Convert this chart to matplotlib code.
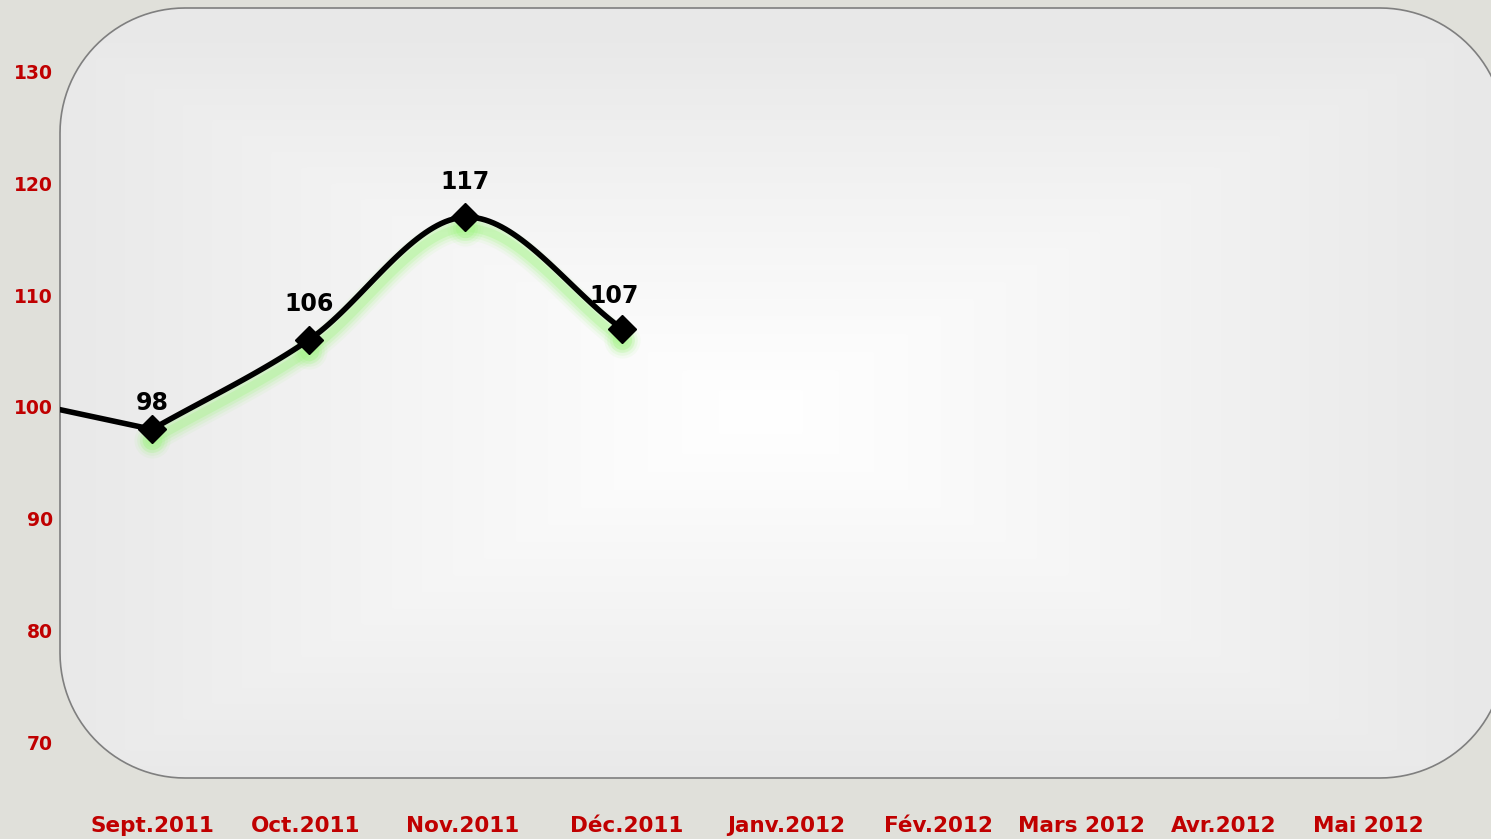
import numpy as np
import matplotlib
matplotlib.use("Agg")
import matplotlib.pyplot as plt
from matplotlib.patches import Polygon
import matplotlib.transforms as mtransforms

# Données
mois = ['Sept.2011', 'Oct.2011', 'Nov.2011', 'Déc.2011', 'Janv.2012',
        'Fév.2012', 'Mars 2012', 'Avr.2012', 'Mai 2012']
pos_etiquettes = [0, 0.98, 1.98, 3.03, 4.05, 5.02, 5.93, 6.84, 7.76]
x_points = [0, 1, 2, 3]
valeurs = [98, 106, 117, 107]
etiquettes = ['98', '106', '117', '107']
x_precedent = -1      # point précédent (Août, hors cadre)
val_precedent = 101
graduations_y = [70, 80, 90, 100, 110, 120, 130]

ROUGE = '#c00000'
FOND = '#e0e0da'

W, H = 1491, 839
fig = plt.figure(figsize=(W / 100, H / 100), dpi=100)
fig.patch.set_facecolor(FOND)

# fond : cadre arrondi avec dégradé (coordonnées en pixels, origine en bas)
bg = fig.add_axes([0, 0, 1, 1])
bg.set_xlim(0, W)
bg.set_ylim(0, H)
bg.axis('off')
bx, by, bw, bh, r = 60, H - 778, 1445, 770, 125

def rect_arrondi(x, y, w, h, r, n=30):
    pts = []
    coins = [(x + w - r, y + h - r, 0), (x + r, y + h - r, 90),
             (x + r, y + r, 180), (x + w - r, y + r, 270)]
    for cx, cy, a0 in coins:
        a = np.radians(np.linspace(a0, a0 + 90, n))
        pts.extend(zip(cx + r * np.cos(a), cy + r * np.sin(a)))
    return np.array(pts)

box = Polygon(rect_arrondi(bx, by, bw, bh, r), closed=True,
              facecolor='none', edgecolor='#7f7f7f', linewidth=1.2, zorder=3)
bg.add_patch(box)
gx = np.linspace(-1, 1, 400)
gy = np.linspace(-1, 1, 250)
GX, GY = np.meshgrid(gx, gy)
d = np.maximum(np.abs(GX + 0.03), np.abs(GY - 0.05))
d = np.clip(d, 0, 1) ** 1.1
c = 1.0 - d * (1.0 - 0.91)
img = np.dstack([c, c, c])
im = bg.imshow(img, extent=[bx, bx + bw, by, by + bh], aspect='auto',
               zorder=1, interpolation='bilinear', origin='upper')
im.set_clip_path(box)

# axes = zone du cadre (pixels 60..1491, 8..778)
ax = fig.add_axes([60 / W, 1 - 778 / H, (W - 60) / W, 770 / H])
ax.set_facecolor('none')
for s in ax.spines.values():
    s.set_visible(False)

# échelle : x pixel = 152 + 156.7*i ; y pixel = 407 - 11.167*(v-100)
ax.set_xlim((60 - 152) / 156.7, (W - 152) / 156.7)
ax.set_ylim(100 - (778 - 407) / 11.167, 100 + (407 - 8) / 11.167)

# courbe lissée (Catmull-Rom)
def lisser(xs, ys, n=40):
    xs = np.asarray(xs, float)
    ys = np.asarray(ys, float)
    px = np.concatenate([[2 * xs[0] - xs[1]], xs, [2 * xs[-1] - xs[-2]]])
    py = np.concatenate([[2 * ys[0] - ys[1]], ys, [2 * ys[-1] - ys[-2]]])
    outx, outy = [], []
    for i in range(1, len(px) - 2):
        t = np.linspace(0, 1, n)
        for p, out in ((px, outx), (py, outy)):
            a, b, cc, dd = p[i - 1], p[i], p[i + 1], p[i + 2]
            out.extend(0.5 * ((2 * b) + (-a + cc) * t +
                              (2 * a - 5 * b + 4 * cc - dd) * t ** 2 +
                              (-a + 3 * b - 3 * cc + dd) * t ** 3))
    return np.array(outx), np.array(outy)

sx, sy = lisser(x_points, valeurs)

# lueur verte décalée vers le bas
tr = mtransforms.offset_copy(ax.transData, fig=fig, x=0, y=-11, units='dots')
for lw, al in [(18, 0.08), (14, 0.12), (10, 0.18), (6, 0.28)]:
    ax.plot(sx, sy, color='#9cf57c', lw=lw, alpha=al,
            solid_capstyle='round', transform=tr, zorder=3)
    ax.plot(x_points, valeurs, 'o', color='#9cf57c', ms=lw + 8,
            alpha=al, mec='none', transform=tr, zorder=3)

ax.plot([x_precedent, x_points[0]], [val_precedent, valeurs[0]],
        color='black', lw=4, zorder=5, solid_capstyle='round')
ax.plot(sx, sy, color='black', lw=4, zorder=5)
ax.plot(x_points, valeurs, 'D', color='black', ms=14, zorder=6)

decalages = {'98': (0, 10.5), '106': (0, 17), '117': (0, 17), '107': (-6, 15)}
for x, v, t in zip(x_points, valeurs, etiquettes):
    ax.annotate(t, (x, v), xytext=decalages[t], textcoords='offset points',
                ha='center', va='bottom', fontsize=17, fontweight='bold',
                color='black', zorder=7)

ax.set_xticks(pos_etiquettes)
ax.set_xticklabels(mois)
ax.set_yticks(graduations_y)
ax.set_yticklabels([str(v) for v in graduations_y])
ax.tick_params(axis='x', length=0, pad=27, labelsize=15.5, labelcolor=ROUGE)
ax.tick_params(axis='y', length=0, pad=5, labelsize=13.5, labelcolor=ROUGE)
for lab in ax.get_xticklabels() + ax.get_yticklabels():
    lab.set_fontweight('bold')

fig.savefig('out.png', dpi=100, facecolor=FOND)
